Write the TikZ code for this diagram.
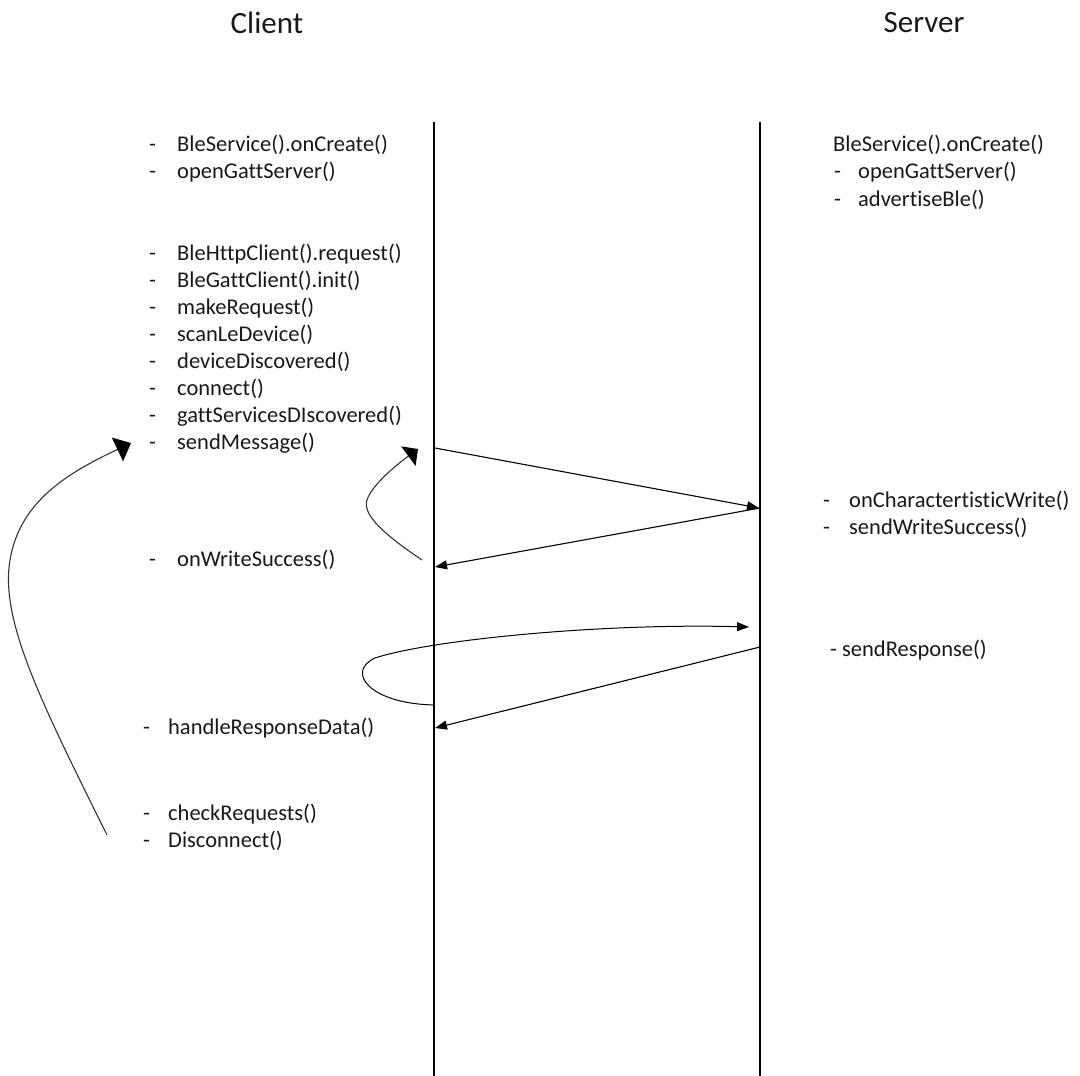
\documentclass[tikz,border=0pt]{standalone}
\usepackage{fontspec}
\setmainfont{Carlito}[Ligatures=NoCommon]
\usetikzlibrary{arrows.meta}
\begin{document}
\begin{tikzpicture}[x=1pt,y=-1pt,
  lbl/.style={anchor=west,inner sep=0pt,font=\fontsize{22.5}{27}\selectfont,text=black!90},
  ttl/.style={inner sep=0pt,font=\fontsize{31}{36}\selectfont,text=black!90},
  life/.style={line width=1.3pt},
  msg/.style={line width=1.1pt,-{Triangle[length=12pt,width=9pt]}},
  loopy/.style={line width=1.1pt,black!80}]
\useasboundingbox (0,0) rectangle (1080,1076);
% titles
\node[ttl] (tc) at (267,23) {Client};
\node[ttl] (ts) at (924,23) {Server};
% lifelines
\coordinate (lt) at (434,122); \coordinate (lb) at (434,1076);
\coordinate (rt) at (760,122); \coordinate (rb) at (760,1076);
\draw[life] (lt) -- (lb);
\draw[life] (rt) -- (rb);
% client list
\node[lbl] (c1) at (149,145) {\makebox[28pt][l]{-}BleService().onCreate()};
\node[lbl] (c2) at (149,172) {\makebox[28pt][l]{-}openGattServer()};
\node[lbl] (c3) at (149,254) {\makebox[28pt][l]{-}BleHttpClient().request()};
\node[lbl] (c4) at (149,281) {\makebox[28pt][l]{-}BleGattClient().init()};
\node[lbl] (c5) at (149,308) {\makebox[28pt][l]{-}makeRequest()};
\node[lbl] (c6) at (149,335) {\makebox[28pt][l]{-}scanLeDevice()};
\node[lbl] (c7) at (149,362) {\makebox[28pt][l]{-}deviceDiscovered()};
\node[lbl] (c8) at (149,389) {\makebox[28pt][l]{-}connect()};
\node[lbl] (c9) at (149,416) {\makebox[28pt][l]{-}gattServicesDIscovered()};
\node[lbl] (c10) at (149,443) {\makebox[28pt][l]{-}sendMessage()};
\node[lbl] (c11) at (149,560) {\makebox[28pt][l]{-}onWriteSuccess()};
\node[lbl] (c12) at (143,728) {\makebox[25pt][l]{-}handleResponseData()};
\node[lbl] (c13) at (143,814) {\makebox[25pt][l]{-}checkRequests()};
\node[lbl] (c14) at (143,841) {\makebox[25pt][l]{-}Disconnect()};
% server list
\node[lbl] (s1) at (833,145) {BleService().onCreate()};
\node[lbl] (s2) at (834,172) {\makebox[24pt][l]{-}openGattServer()};
\node[lbl] (s3) at (834,200) {\makebox[24pt][l]{-}advertiseBle()};
\node[lbl] (s4) at (823,501) {\makebox[26pt][l]{-}onCharactertisticWrite()};
\node[lbl] (s5) at (823,528) {\makebox[26pt][l]{-}sendWriteSuccess()};
\node[lbl] (s6) at (830,650) {- sendResponse()};
% message points
\coordinate (m1a) at (435,448);
\coordinate (m1b) at (759,508);
\coordinate (m2a) at (760,508);
\coordinate (m2b) at (435,567);
\coordinate (m3a) at (435,705);
\coordinate (m3b) at (749,627);
\coordinate (m4a) at (760,647);
\coordinate (m4b) at (435,728);
\draw[msg] (m1a) -- (m1b);
\draw[msg] (m2a) -- (m2b);
\draw[msg] (m4a) -- (m4b);
\draw[msg,line width=1pt] (m3a) .. controls (370,704) and (345,672) .. (375,658)
   .. controls (430,640) and (600,623) .. (m3b);
% small loop arrow
\coordinate (k1) at (422,560);
\coordinate (k2) at (367,500);
\coordinate (k3) at (418,449);
\draw[loopy,-{Triangle[length=12pt,width=24pt,color=black]}] (k1) .. controls (385,535) and (362,515) .. (k2)
   .. controls (372,485) and (395,466) .. (k3);
% big return arrow
\coordinate (b1) at (107,835);
\coordinate (b2) at (10,560);
\coordinate (b3) at (131,443);
\draw[loopy,-{Triangle[length=15pt,width=26pt,color=black]}] (b1) .. controls (40,700) and (0,620) .. (b2)
   .. controls (20,500) and (70,472) .. (b3);
\end{tikzpicture}
\end{document}
